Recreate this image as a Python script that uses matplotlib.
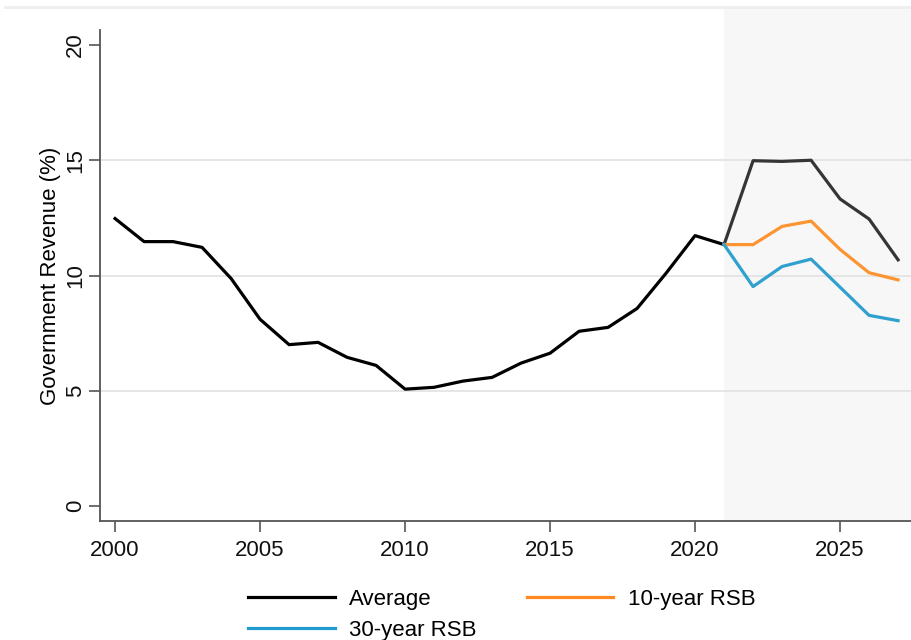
import matplotlib
matplotlib.use('Agg')
import matplotlib.pyplot as plt
from matplotlib.lines import Line2D
from matplotlib.patches import Rectangle

plt.rcParams['font.family'] = ['Liberation Sans', 'DejaVu Sans']
plt.rcParams['font.size'] = 16

# historical government revenue (%)
hist_years = list(range(2000, 2022))
hist_rev = [12.47, 11.47, 11.47, 11.22, 9.87, 8.1, 7.0, 7.1, 6.45, 6.1, 5.07,
            5.15, 5.42, 5.58, 6.2, 6.63, 7.58, 7.75, 8.57, 10.1, 11.73, 11.34]

# projections from 2021
proj_years = list(range(2021, 2028))
avg_rev = [11.34, 14.98, 14.95, 15.0, 13.32, 12.45, 10.68]
rsb10_rev = [11.34, 11.34, 12.13, 12.36, 11.13, 10.12, 9.81]
rsb30_rev = [11.34, 9.52, 10.39, 10.71, 9.49, 8.27, 8.04]

fig = plt.figure(figsize=(9.12, 6.4), dpi=100)
ax = fig.add_axes([100/912, 119/640, 812/912, 491/640])
ax.set_zorder(2)

ax.set_xlim(1999.48, 2027.48)
ax.set_ylim(-0.65, 20.65)

# shaded projection period (runs up to the top border line)
fig.add_artist(Rectangle((724/912, 119/640), (912-724)/912, (632-119)/640,
                         transform=fig.transFigure, facecolor='#f7f7f7',
                         edgecolor='none', zorder=-1))
ax.set_facecolor('none')
fig.add_artist(Line2D([5/912, 1.0], [633/640, 633/640], color='#eeeeee', lw=2))

for yv in [5, 10, 15]:
    ax.axhline(yv, color='#e2e2e2', lw=1.2, zorder=1)

ax.plot(hist_years, hist_rev, color='black', lw=2.3, zorder=3)
ax.plot(proj_years, avg_rev, color='#353535', lw=2.3, zorder=3)
ax.plot(proj_years, rsb10_rev, color='#fd9432', lw=2.3, zorder=3)
ax.plot(proj_years, rsb30_rev, color='#30a0cf', lw=2.3, zorder=3)

ax.set_xticks([2000, 2005, 2010, 2015, 2020, 2025])
ax.set_yticks([0, 5, 10, 15, 20])
ax.set_yticklabels(['0', '5', '10', '15', '20'], rotation=90, va='center')
ax.tick_params(axis='both', length=8, width=1.2, color='#555555', labelsize=16, labelcolor='#111111')
ax.tick_params(axis='x', pad=6)
ax.tick_params(axis='y', pad=2)
ax.set_ylabel('Government Revenue (%)', fontsize=16, labelpad=3)

for s in ['top', 'right']:
    ax.spines[s].set_visible(False)
ax.spines['left'].set_color('#555555')
ax.spines['bottom'].set_color('#555555')
ax.spines['left'].set_linewidth(1.3)
ax.spines['bottom'].set_linewidth(1.3)

handles = [Line2D([], [], color='black', lw=2.3),
           Line2D([], [], color='#1f9bcf', lw=2.3),
           Line2D([], [], color='#ff8a1f', lw=2.3)]
labels = ['Average', '30-year RSB', '10-year RSB']
fig.legend(handles, labels, ncol=2, loc='upper left',
           bbox_to_anchor=(248/912, 51/640), frameon=False, fontsize=16,
           handlelength=3.9, handletextpad=0.65, columnspacing=2.25,
           labelspacing=0.45, borderpad=0, borderaxespad=0)

fig.savefig('out.png', dpi=100)
